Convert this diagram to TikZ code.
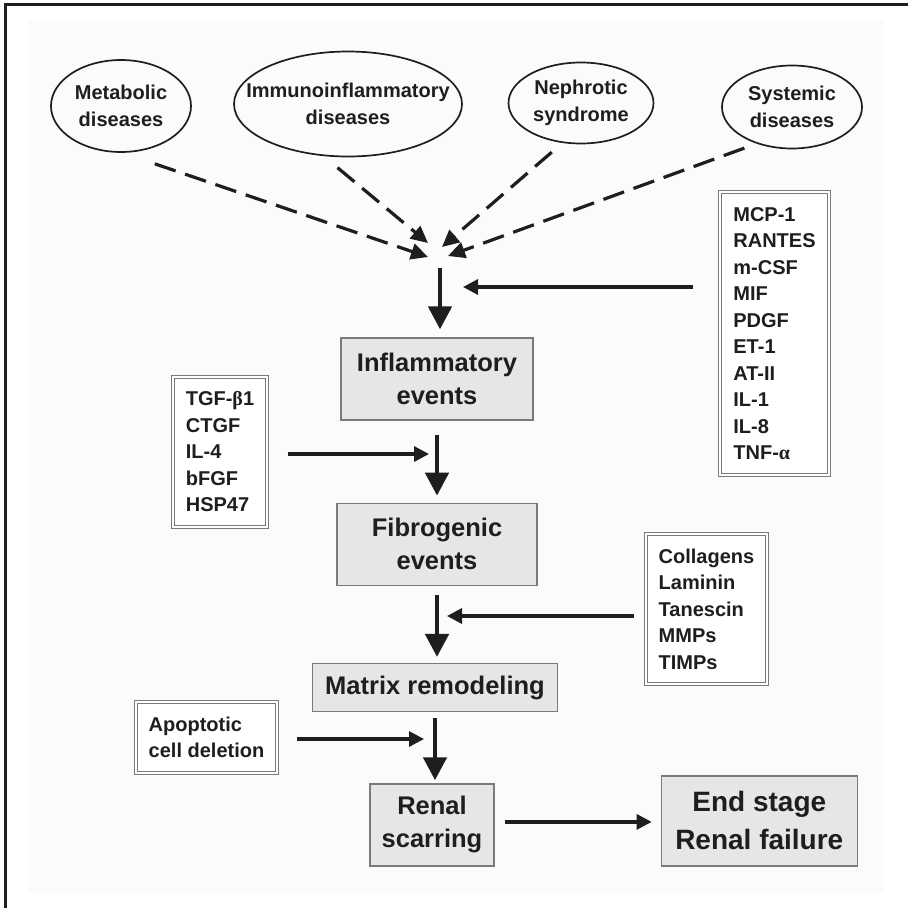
\documentclass[tikz,border=0pt]{standalone}
\usepackage{fontspec}
\setmainfont{Liberation Sans}
\newfontfamily\greekfont{Liberation Serif}
\usepackage{tikz}
\usetikzlibrary{shapes.geometric, positioning, arrows.meta}

\definecolor{ink}{HTML}{1E1E1E}
\definecolor{panel}{HTML}{FBFBFB}
\definecolor{eventfill}{HTML}{E6E6E6}
\definecolor{edge}{HTML}{7A7A7A}

\begin{document}
\begin{tikzpicture}[
    x=1pt, y=1pt,
    disease/.style={ellipse, draw=ink, line width=1.7pt, inner sep=0pt, align=center, text=ink, font=\fontsize{20}{26.5}\selectfont\bfseries},
    event/.style={rectangle, draw=edge, fill=eventfill, line width=1.3pt, inner sep=4pt, align=center, text=ink, font=\fontsize{25.5}{33}\selectfont\bfseries},
    factors/.style={rectangle, draw=edge, double=white, double distance=2.4pt, line width=1pt, fill=white, inner sep=0pt, align=left, text=ink, font=\fontsize{20}{26.5}\selectfont\bfseries},
    cause/.style={-{Triangle[length=17pt, width=16pt]}, line width=3.2pt, dash pattern=on 22pt off 10pt, draw=ink},
    feed/.style={-{Triangle[length=15pt, width=15pt]}, line width=3.2pt, draw=ink},
    flow/.style={-{Triangle[length=23pt, width=23pt]}, line width=4.8pt, draw=ink}
]

% frame and panel
\useasboundingbox (0,0) rectangle (908,-908);
\fill[panel] (28,-20) rectangle (884,-893);
\draw[line width=3pt, ink] (5,-908) -- (5,-4) -- (908,-4);

% disease ellipses
\node[disease, minimum width=140pt, minimum height=92pt] (metab) at (121,-106) {Metabolic\\diseases};
\node[disease, minimum width=228pt, minimum height=105pt, inner xsep=-25pt] (immuno) at (348,-104) {Immunoinflammatory\\diseases};
\node[disease, minimum width=145pt, minimum height=81pt] (nephro) at (581,-103) {Nephrotic\\syndrome};
\node[disease, minimum width=140pt, minimum height=83pt] (syst) at (792,-107) {Systemic\\diseases};

% main chain of events
\node[event, minimum width=192pt, minimum height=82pt] (inflam) at (437,-379) {Inflammatory\\events};
\node[event, minimum width=200pt, minimum height=82pt, below=82pt of inflam] (fibro) {Fibrogenic\\events};
\node[event, minimum width=245pt, minimum height=48pt, below=77pt of fibro, xshift=-2pt] (matrix) {Matrix remodeling};
\node[event, minimum width=124pt, minimum height=82pt, below=71pt of matrix, xshift=-3pt] (renal) {Renal\\scarring};
\node[event, minimum width=196pt, minimum height=90pt, right=166pt of renal, yshift=4pt, font=\fontsize{28}{38}\selectfont\bfseries] (endst) {End stage\\Renal failure};

% mediator boxes
\node[factors, minimum width=109pt, minimum height=283pt] (mcp) at (774.5,-333.5) {MCP-1\\RANTES\\m-CSF\\MIF\\PDGF\\ET-1\\AT-II\\IL-1\\IL-8\\TNF-{\greekfont α}};
\node[factors, minimum width=94pt, minimum height=150pt] (tgf) at (220,-452) {TGF-{\greekfont β}1\\CTGF\\IL-4\\bFGF\\HSP47};
\node[factors, minimum width=121pt, minimum height=150pt] (coll) at (706.5,-609) {Collagens\\Laminin\\Tanescin\\MMPs\\TIMPs};
\node[factors, minimum width=141pt, minimum height=71pt] (apop) at (206.5,-737.5) {Apoptotic\\cell deletion};

% where the dashed arrows meet
\coordinate (hit1) at (428,-257);
\coordinate (hit2) at (428,-243);
\coordinate (hit3) at (442,-247);
\coordinate (hit4) at (448,-256);
\coordinate (merge) at (440,-268);

% dashed arrows
\draw[cause, shorten <=34pt] (metab.-88) -- (hit1);
\draw[cause, shorten <=18pt] (immuno.-115) -- (hit2);
\draw[cause, shorten <=14pt] (nephro.-115) -- (hit3);
\draw[cause, shorten <=13pt] (syst.-134) -- (hit4);

% arrows
\draw[feed, shorten <=27pt, shorten >=23pt] ([yshift=46.5pt]mcp.west) -- ([yshift=46.5pt]mcp.west -| merge);
\draw[flow, shorten >=8pt] (merge) -- (merge |- inflam.north);
\draw[flow, shorten <=14pt, shorten >=7pt] (inflam.south) -- (fibro.north);
\draw[feed, shorten <=20pt, shorten >=8pt] ([yshift=-2pt]tgf.east) -- ([yshift=-2pt]tgf.east -| inflam.south);
\draw[flow, shorten <=9pt, shorten >=6pt] (fibro.south) -- (fibro.south |- matrix.north);
\draw[feed, shorten <=12pt, shorten >=10pt] ([yshift=-7pt]coll.west) -- ([yshift=-7pt]coll.west -| fibro.south);
\draw[flow, shorten <=6pt, shorten >=3pt] (matrix.south) -- (matrix.south |- renal.north);
\draw[feed, shorten <=19pt, shorten >=11pt] ([yshift=-1.5pt]apop.east) -- ([yshift=-1.5pt]apop.east -| matrix.south);
\draw[feed, shorten <=10pt, shorten >=9pt] ([yshift=3pt]renal.east) -- ([yshift=3pt]renal.east -| endst.west);

\end{tikzpicture}
\end{document}
